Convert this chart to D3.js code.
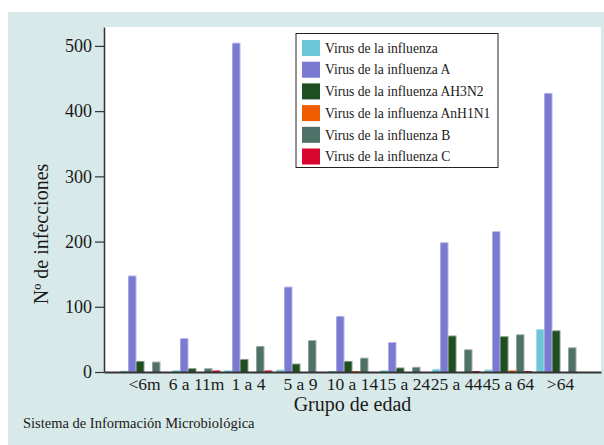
<!DOCTYPE html>
<html>
<head>
<meta charset="utf-8">
<script src="https://cdn.jsdelivr.net/npm/d3@7"></script>
<style>
  html, body { margin: 0; padding: 0; background: #ffffff; }
  svg { display: block; }
  text { font-family: "Liberation Serif", "Times New Roman", serif; fill: #1a1a1a; }
</style>
</head>
<body>
<svg id="chart" width="604" height="445"></svg>
<script>
// Age groups and infection counts per virus type
const categories = ["<6m", "6 a 11m", "1 a 4", "5 a 9", "10 a 14", "15 a 24", "25 a 44", "45 a 64", ">64"];
const seriesNames = [
  "Virus de la influenza",
  "Virus de la influenza A",
  "Virus de la influenza AH3N2",
  "Virus de la influenza AnH1N1",
  "Virus de la influenza B",
  "Virus de la influenza C"
];
const influenza      = [2, 3, 3, 4, 1, 3, 5, 4, 66];
const influenzaA     = [148, 52, 505, 131, 86, 46, 199, 216, 428];
const influenzaAH3N2 = [17, 6, 20, 13, 17, 7, 56, 55, 64];
const influenzaAnH1N1 = [0, 0, 0, 0, 1, 0, 0, 3, 0];
const influenzaB     = [16, 6, 40, 49, 22, 8, 35, 58, 38];
const influenzaC     = [0, 3, 3, 0, 0, 0, 1, 1, 0];
const yTicks = [0, 100, 200, 300, 400, 500];

const seriesValues = [influenza, influenzaA, influenzaAH3N2, influenzaAnH1N1, influenzaB, influenzaC];
const colors = ["#6cc6d7", "#7a7ad2", "#1f4e20", "#f05c00", "#4f7268", "#d8062f"];

const svg = d3.select("#chart");
const W = 604, H = 445;
const plot = { left: 104, right: 601, top: 27, bottom: 372 };

// Panel background
svg.append("rect").attr("x", 8).attr("y", 12).attr("width", W - 8).attr("height", H - 12)
  .attr("fill", "#d8e9e9");
svg.append("rect").attr("x", plot.left).attr("y", plot.top)
  .attr("width", plot.right - plot.left).attr("height", plot.bottom - plot.top)
  .attr("fill", "#ffffff");

// Scales
const x0 = d3.scaleBand().domain(categories).range([plot.left, plot.right])
  .paddingInner(4 / 52).paddingOuter(0.317);
const x1 = d3.scaleBand().domain(seriesNames).range([0, x0.bandwidth()]);
const y = d3.scaleLinear().domain([0, 529]).range([plot.bottom, plot.top]);

// Bars
const rows = [];
categories.forEach((c, i) => {
  seriesNames.forEach((s, j) => {
    rows.push({ cat: c, series: s, value: seriesValues[j][i], color: colors[j] });
  });
});

const bars = svg.append("g").selectAll("g").data(rows.filter(d => d.value > 0)).join("g");
// light rim on top and right edge
bars.append("rect")
  .attr("x", d => x0(d.cat) + x1(d.series))
  .attr("width", x1.bandwidth())
  .attr("y", d => y(d.value))
  .attr("height", d => y(0) - y(d.value))
  .attr("fill", d => d3.interpolateRgb(d.color, "#ffffff")(0.45));
bars.append("rect")
  .attr("x", d => x0(d.cat) + x1(d.series))
  .attr("width", x1.bandwidth() - 1)
  .attr("y", d => Math.min(y(d.value) + 1, y(0) - 1))
  .attr("height", d => Math.max(1, y(0) - y(d.value) - 1))
  .attr("fill", d => d.color);

// Y axis
const yAxis = d3.axisLeft(y).tickValues(yTicks).tickSize(9).tickSizeOuter(0).tickPadding(3);
const gy = svg.append("g").attr("transform", `translate(${plot.left},0)`).call(yAxis);
gy.select(".domain").attr("stroke", "#333").attr("stroke-width", 1.5);
gy.selectAll(".tick line").attr("stroke", "#333").attr("stroke-width", 1.2);
gy.selectAll(".tick text").attr("font-size", 18).attr("font-family", "Liberation Serif").attr("fill", "#1a1a1a");

// X axis
const xAxis = d3.axisBottom(x0).tickSize(0).tickSizeOuter(0).tickPadding(5);
const gx = svg.append("g").attr("transform", `translate(0,${plot.bottom})`).call(xAxis);
gx.select(".domain").attr("stroke", "#333").attr("stroke-width", 1.8);
gx.selectAll(".tick text").attr("font-size", 17.5).attr("font-family", "Liberation Serif").attr("fill", "#1a1a1a")
  .attr("dy", "0.72em");

// Axis titles
svg.append("text").attr("x", (plot.left + plot.right) / 2).attr("y", 411)
  .attr("text-anchor", "middle").attr("font-size", 20).text("Grupo de edad");
svg.append("text").attr("transform", `translate(48,234) rotate(-90)`)
  .attr("text-anchor", "middle").attr("font-size", 20).text("Nº de infecciones");

// Source note
svg.append("text").attr("x", 23).attr("y", 428).attr("font-size", 14.5)
  .text("Sistema de Información Microbiológica");

// Legend
const lg = svg.append("g").attr("transform", "translate(296,33.5)");
lg.append("rect").attr("width", 202).attr("height", 134)
  .attr("fill", "#ffffff").attr("stroke", "#222").attr("stroke-width", 1);
const items = lg.selectAll("g.item").data(seriesNames).join("g")
  .attr("class", "item")
  .attr("transform", (d, i) => `translate(6,${6.5 + i * 21.7})`);
items.append("rect").attr("width", 18).attr("height", 16).attr("fill", (d, i) => colors[i]);
items.append("text").attr("x", 23).attr("y", 8).attr("dy", "0.35em")
  .attr("font-size", 13.6).text(d => d);
</script>
</body>
</html>
